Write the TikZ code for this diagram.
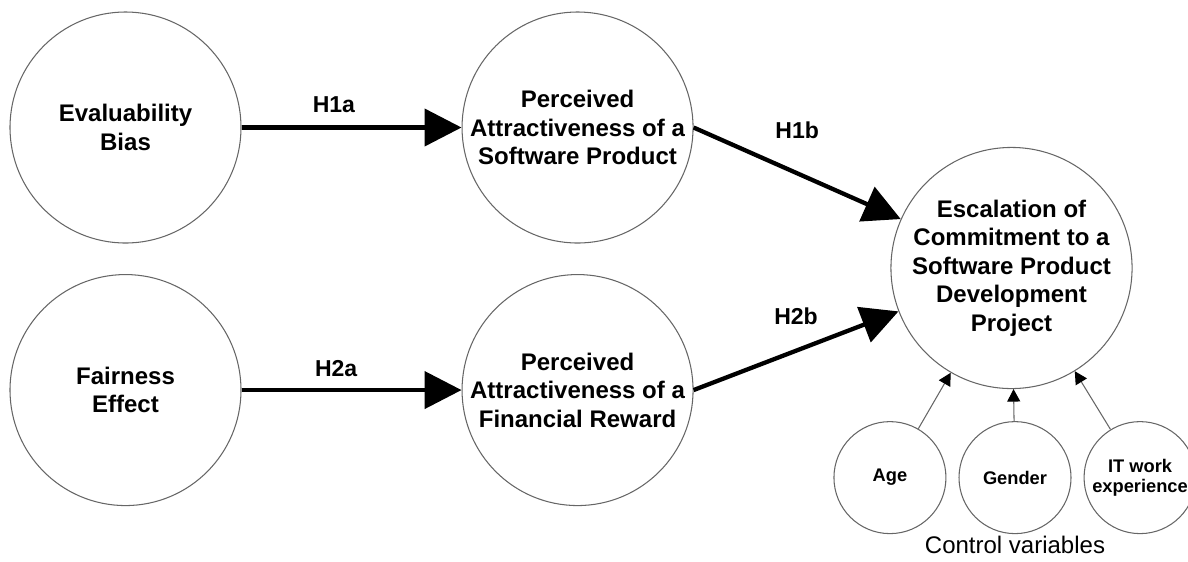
\documentclass[tikz,border=0pt]{standalone}
\usepackage{fontspec}
\setmainfont{Liberation Sans}
\usepackage{tikz}
\usetikzlibrary{arrows.meta, positioning}

\begin{document}
\begin{tikzpicture}[
    costrutto/.style = {circle, draw=black!60, line width=0.6pt, minimum size=4.62cm, inner sep=0pt,
      align=center, font=\fontsize{13.66}{16.2}\selectfont\bfseries},
    controllo/.style = {circle, draw=black!60, line width=0.6pt, minimum size=2.24cm, inner sep=0pt,
      align=center, font=\fontsize{10.4}{11.4}\selectfont\bfseries},
    ipotesi/.style = {-{Triangle[length=0.74cm, width=0.74cm]}, line width=0.086cm},
    effetto/.style = {-{Triangle[length=0.25cm, width=0.26cm, color=black]}, draw=black!60, line width=0.6pt},
    etichetta/.style = {font=\fontsize{13.1}{15}\selectfont\bfseries, inner sep=0pt},
  ]
    \useasboundingbox (0,0) rectangle (23.76,-11.22);

    % Costrutti del modello
    \node[costrutto] (eval) at (2.51,-2.55) {Evaluability\\Bias};           % bias di valutabilita
    \node[costrutto, right=4.4cm of eval] (softw) {Perceived\\Attractiveness of a\\Software Product};
    \node[costrutto, below=0.61cm of eval] (fair) {Fairness\\Effect};       % effetto equita
    \node[costrutto, right=4.4cm of fair] (fin) {Perceived\\Attractiveness of a\\Financial Reward};
    \node[costrutto, minimum size=4.66cm] (esc) at (20.23,-5.36)
      {Escalation of\\Commitment to a\\Software Product\\Development\\Project};

    % Variabili di controllo
    \node[controllo, below=0.64cm of esc, xshift=0.07cm] (gender) {Gender};
    \node[controllo, left=0.24cm of gender] (age) {Age};
    \node[controllo, right=0.24cm of gender] (itexp) {IT work\\experience};
    \node[below=0.04cm of gender, inner sep=0pt, font=\fontsize{13.66}{16.2}\selectfont] (ctrl) {Control variables};

    % Ipotesi - solo connessioni tra nodi definiti
    \draw[ipotesi] (eval) -- node[etichetta, pos=0.42, yshift=0.46cm] {H1a} (softw);
    \draw[ipotesi] (fair) -- node[etichetta, pos=0.43, yshift=0.43cm] {H2a} (fin);
    \draw[ipotesi] (softw.east) -- node[etichetta, pos=0.5, yshift=0.86cm] {H1b} (esc);
    \draw[ipotesi] (fin.east) -- node[etichetta, pos=0.5, yshift=0.69cm] {H2b} (esc);

    \draw[effetto] (age) -- (esc);
    \draw[effetto] (gender) -- (esc);
    \draw[effetto] (itexp) -- (esc);
\end{tikzpicture}
\end{document}
